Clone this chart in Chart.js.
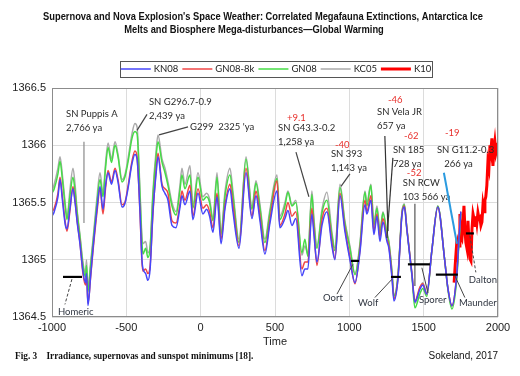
<!DOCTYPE html>
<html>
<head>
<meta charset="utf-8">
<script src="https://cdn.jsdelivr.net/npm/chart.js@4.4.1/dist/chart.umd.min.js"></script>
<style>
  html, body { margin: 0; padding: 0; background: #fff; }
  #wrap { width: 520px; height: 376px; }
</style>
</head>
<body>
<div id="wrap"><canvas id="irradiance"></canvas></div>
<script>
// years (AD, negative = BC) shared by the four reconstructions
const years = [
  -1000, -985, -960, -946, -930, -910, -899, -880, -859, -845,
  -830, -812, -792, -775, -768, -758, -740, -724, -697, -677,
  -657, -640, -623, -600, -576, -556, -529, -510, -489, -462,
  -442, -428, -408, -395, -388, -370, -355, -340, -321, -300,
  -287, -260, -240, -220, -193, -166, -140, -126, -106, -72,
  -52, -18, 15, 40, 60, 83, 110, 137, 164, 197,
  217, 258, 305, 345, 372, 399, 432, 466, 513, 533,
  567, 587, 614, 640, 681, 701, 721, 748, 762, 782,
  816, 849, 883, 903, 937, 970, 1004, 1038, 1071, 1105,
  1118, 1145, 1165, 1186, 1206, 1226, 1253, 1266, 1287, 1300,
  1327, 1354, 1370, 1387, 1421, 1441, 1474, 1494, 1521, 1555,
  1595, 1642, 1662, 1690, 1723, 1737, 1750
];

const kn08 = [
  1365.38, 1365.42, 1365.55, 1365.70, 1365.52, 1365.30, 1365.27, 1365.44, 1365.62, 1365.50,
  1365.32, 1365.14, 1364.90, 1364.80, 1364.88, 1364.60, 1364.86, 1365.10, 1365.45, 1365.64,
  1365.44, 1365.65, 1365.76, 1365.66, 1365.78, 1365.68, 1365.46, 1365.49, 1365.62, 1365.84,
  1365.92, 1365.88, 1365.42, 1365.00, 1364.92, 1364.88, 1364.82, 1364.92, 1365.42, 1365.75,
  1365.90, 1365.64, 1365.58, 1365.52, 1365.30, 1365.28, 1365.45, 1365.56, 1365.48, 1365.60,
  1365.35, 1365.58, 1365.40, 1365.44, 1365.38, 1365.24, 1365.55, 1365.14, 1365.45, 1365.62,
  1365.42, 1365.10, 1365.76, 1365.36, 1365.56, 1365.34, 1365.05, 1365.32, 1365.60, 1365.28,
  1365.36, 1365.43, 1365.30, 1365.36, 1364.86, 1364.92, 1364.92, 1365.40, 1365.22, 1364.98,
  1365.30, 1365.42, 1365.12, 1365.00, 1365.56, 1365.25, 1365.00, 1364.80, 1365.06, 1365.48,
  1365.40, 1365.52, 1365.22, 1365.38, 1365.16, 1365.33, 1365.16, 1365.10, 1364.84, 1364.64,
  1364.83, 1365.39, 1365.46, 1365.26, 1364.87, 1364.63, 1364.74, 1364.78, 1364.70, 1365.08,
  1365.46, 1364.99, 1364.76, 1364.60, 1364.88, 1365.18, 1365.42
];

const gn08_8k = [
  1365.42, 1365.45, 1365.58, 1365.72, 1365.55, 1365.32, 1365.25, 1365.42, 1365.64, 1365.52,
  1365.33, 1365.15, 1364.88, 1364.78, 1364.86, 1364.62, 1364.85, 1365.08, 1365.42, 1365.62,
  1365.40, 1365.62, 1365.78, 1365.68, 1365.80, 1365.70, 1365.48, 1365.50, 1365.64, 1365.86,
  1365.95, 1365.90, 1365.40, 1364.98, 1364.90, 1364.92, 1364.88, 1364.95, 1365.40, 1365.78,
  1365.93, 1365.66, 1365.62, 1365.58, 1365.34, 1365.32, 1365.48, 1365.60, 1365.52, 1365.65,
  1365.38, 1365.62, 1365.45, 1365.48, 1365.42, 1365.28, 1365.58, 1365.18, 1365.48, 1365.66,
  1365.48, 1365.12, 1365.80, 1365.38, 1365.60, 1365.38, 1365.08, 1365.35, 1365.69, 1365.30,
  1365.40, 1365.50, 1365.38, 1365.42, 1364.92, 1364.98, 1364.98, 1365.45, 1365.26, 1364.95,
  1365.35, 1365.45, 1365.15, 1365.01, 1365.58, 1365.28, 1365.02, 1364.79, 1365.08, 1365.52,
  1365.42, 1365.56, 1365.25, 1365.40, 1365.20, 1365.36, 1365.18, 1365.12, 1364.86, 1364.66,
  1364.84, 1365.40, 1365.47, 1365.27, 1364.88, 1364.64, 1364.76, 1364.79, 1364.70, 1365.08,
  1365.46, 1364.99, 1364.76, 1364.60, 1364.88, 1365.18, 1365.42
];

const gn08 = [
  1365.58, 1365.62, 1365.75, 1365.86, 1365.70, 1365.45, 1365.35, 1365.55, 1365.72, 1365.60,
  1365.40, 1365.20, 1364.95, 1364.85, 1364.95, 1364.72, 1364.95, 1365.15, 1365.50, 1365.70,
  1365.55, 1365.80, 1365.98, 1365.85, 1366.00, 1365.90, 1365.68, 1365.72, 1365.85, 1366.06,
  1366.12, 1366.10, 1365.56, 1365.15, 1365.05, 1365.10, 1365.02, 1365.10, 1365.56, 1365.90,
  1366.03, 1365.85, 1365.76, 1365.65, 1365.47, 1365.39, 1365.60, 1365.74, 1365.62, 1365.74,
  1365.45, 1365.72, 1365.52, 1365.55, 1365.50, 1365.34, 1365.72, 1365.22, 1365.56, 1365.74,
  1365.56, 1365.15, 1365.88, 1365.44, 1365.67, 1365.45, 1365.15, 1365.41, 1365.71, 1365.35,
  1365.47, 1365.59, 1365.47, 1365.50, 1365.06, 1365.18, 1365.03, 1365.57, 1365.32, 1365.10,
  1365.41, 1365.52, 1365.21, 1365.08, 1365.63, 1365.32, 1365.10, 1364.87, 1365.12, 1365.59,
  1365.47, 1365.65, 1365.30, 1365.45, 1365.23, 1365.41, 1365.22, 1365.15, 1364.89, 1364.68,
  1364.86, 1365.41, 1365.48, 1365.27, 1364.86, 1364.58, 1364.70, 1364.75, 1364.68, 1365.08,
  1365.47, 1364.99, 1364.75, 1364.57, 1364.84, 1365.14, 1365.41
];

const kc05 = [
  1365.60, 1365.66, 1365.80, 1365.90, 1365.74, 1365.48, 1365.37, 1365.60, 1365.80, 1365.66,
  1365.42, 1365.22, 1364.98, 1364.88, 1365.00, 1364.75, 1364.98, 1365.18, 1365.55, 1365.76,
  1365.58, 1365.84, 1366.02, 1365.88, 1366.03, 1365.92, 1365.70, 1365.74, 1365.88, 1366.10,
  1366.19, 1366.16, 1365.60, 1365.20, 1365.14, 1365.16, 1365.06, 1365.12, 1365.60, 1365.95,
  1366.09, 1365.88, 1365.80, 1365.68, 1365.50, 1365.42, 1365.64, 1365.80, 1365.66, 1365.82,
  1365.48, 1365.76, 1365.55, 1365.58, 1365.53, 1365.36, 1365.76, 1365.24, 1365.60, 1365.80,
  1365.60, 1365.18, 1365.90, 1365.46, 1365.69, 1365.48, 1365.18, 1365.44, 1365.74, 1365.38,
  1365.50, 1365.60, 1365.48, 1365.52, 1365.04, 1365.12, 1365.05, 1365.60, 1365.36, 1365.12,
  1365.44, 1365.59, 1365.24, 1365.10, 1365.66, 1365.34, 1365.12, 1364.88, 1365.14, 1365.60,
  1365.50, 1365.66, 1365.32, 1365.47, 1365.25, 1365.42, 1365.24, 1365.16, 1364.90, 1364.69,
  1364.86, 1365.42, 1365.49, 1365.28, 1364.88, 1364.62, 1364.75, 1364.80, 1364.71, 1365.08,
  1365.47, 1364.99, 1364.76, 1364.59, 1364.86, 1365.16, 1365.40
];

// K10 reconstruction, 18th century to 2000
const k10Years = [
  1705, 1712, 1720, 1726, 1732, 1738, 1744, 1750, 1757, 1764,
  1771, 1778, 1784, 1791, 1798, 1805, 1811, 1818, 1825, 1832,
  1840, 1846, 1852, 1858, 1865, 1872, 1878, 1885, 1892, 1899,
  1906, 1912, 1918, 1925, 1932, 1939, 1946, 1952, 1959, 1966,
  1972, 1979, 1986, 1993, 2000
];
const k10 = [
  1364.80, 1364.95, 1365.10, 1365.05, 1365.15, 1365.12, 1365.40, 1365.20, 1365.18, 1365.30,
  1365.47, 1365.25, 1365.15, 1365.10, 1365.34, 1365.15, 1365.01, 1364.99, 1365.27, 1365.40,
  1365.35, 1365.30, 1365.38, 1365.32, 1365.41, 1365.36, 1365.37, 1365.30, 1365.33, 1365.48,
  1365.42, 1365.52, 1365.55, 1365.65, 1365.85, 1365.80, 1366.00, 1365.95, 1366.06, 1365.82,
  1365.95, 1366.03, 1365.93, 1365.97, 1366.02
];

const titleLines = [
  "Supernova and Nova Explosion's Space Weather: Correlated Megafauna Extinctions, Antarctica Ice",
  'Melts and Biosphere Mega-disturbances\u2014Global Warming'
];

// supernova notes: label position, pointer start/end (year, W/m2)
const supernovae = [
  { lines: ['SN Puppis A', '2,766 ya'], at: [-906, 1366.27], from: [-785, 1366.03], to: [-785, 1365.32], line: '#8a8a8a' },
  { lines: ['SN G296.7-0.9', '2,439 ya'], at: [-348, 1366.38], from: [-361, 1366.27], to: [-428, 1366.13], line: '#444' },
  { lines: ["G299  2325 'ya"], at: [-72, 1366.16], from: [-85, 1366.16], to: [-280, 1366.09], line: '#444' },
  { lines: ['SN G43.3-0.2', '1,258 ya'], at: [520, 1366.15], from: [641, 1365.94], to: [728, 1365.55], line: '#444' },
  { lines: ['SN 393', '1,143 ya'], at: [876, 1365.92], from: [1004, 1365.75], to: [944, 1365.64], line: '#444' },
  { lines: ['SN Vela JR', '657 ya'], at: [1186, 1366.29], from: [1239, 1366.08], to: [1260, 1365.25], line: '#333' },
  { lines: ['SN 185', '728 ya'], at: [1293, 1365.96], from: [1293, 1365.89], to: [1253, 1365.19], line: '#333' },
  { lines: ['SN RCW', '103 566 ya'], at: [1360, 1365.67], from: [1441, 1365.49], to: [1441, 1364.77], line: '#555' },
  { lines: ['SN G11.2-0.3', '   266 ya'], at: [1589, 1365.96], from: [1636, 1365.76], to: [1724, 1365.14], line: '#2b9be0' }
];
const changes = [
  { text: '+9.1', at: [580, 1366.24] },
  { text: '-40', at: [903, 1366.0] },
  { text: '-46', at: [1260, 1366.40] },
  { text: '-62', at: [1367, 1366.08] },
  { text: '-52', at: [1387, 1365.76] },
  { text: '-19', at: [1643, 1366.11] }
];

// grand solar minima: bar span, bar level, label and pointer
const minima = [
  { name: 'Homeric', span: [-926, -798], level: 1364.85, at: [-960, 1364.54], from: [-866, 1364.83], to: [-913, 1364.61], dash: true },
  { name: 'Oort', span: [1011, 1065], level: 1364.99, at: [823, 1364.67], from: [917, 1364.70], to: [1024, 1364.96] },
  { name: 'Wolf', span: [1280, 1347], level: 1364.85, at: [1058, 1364.62], from: [1172, 1364.67], to: [1287, 1364.83] },
  { name: 'Sporer', span: [1394, 1542], level: 1364.96, at: [1468, 1364.65], from: [1488, 1364.93], to: [1529, 1364.71] },
  { name: 'Maunder', span: [1582, 1730], level: 1364.87, at: [1737, 1364.62], from: [1710, 1364.86], to: [1777, 1364.67] },
  { name: 'Dalton', span: [1784, 1838], level: 1365.23, at: [1804, 1364.82], from: [1811, 1365.21], to: [1851, 1364.89], dash: true }
];

const pts = (xs, ys) => xs.map((x, i) => ({ x: x, y: ys[i] }));
const noteFont = '9.5px Lato, "Liberation Sans", sans-serif';

const notes = {
  id: 'notes',
  afterDraw(chart) {
    const ctx = chart.ctx;
    const xs = chart.scales.x, ys = chart.scales.y;
    const px = v => xs.getPixelForValue(v);
    const py = v => ys.getPixelForValue(v);
    const area = chart.chartArea;

    ctx.save();
    // box around plot
    ctx.strokeStyle = '#8c8c8c';
    ctx.lineWidth = 1;
    ctx.strokeRect(area.left + 0.5, area.top + 0.5, area.right - area.left - 1, area.bottom - area.top - 1);

    // title, squeezed like the narrow face of the original
    ctx.fillStyle = '#111';
    ctx.textBaseline = 'middle';
    ctx.textAlign = 'center';
    ctx.font = 'bold 10px "Liberation Sans", Arial, sans-serif';
    const squeeze = 440 / ctx.measureText(titleLines[0]).width;
    [[263, 17], [254, 30]].forEach((p, i) => {
      ctx.save();
      ctx.translate(p[0], p[1]);
      ctx.scale(squeeze, 1);
      ctx.fillText(titleLines[i], 0, 0);
      ctx.restore();
    });

    // pointers and labels for supernovae
    ctx.textAlign = 'left';
    ctx.font = noteFont;
    supernovae.forEach(s => {
      ctx.strokeStyle = s.line;
      ctx.lineWidth = s.line === '#2b9be0' ? 2 : 1.2;
      ctx.beginPath();
      ctx.moveTo(px(s.from[0]), py(s.from[1]));
      ctx.lineTo(px(s.to[0]), py(s.to[1]));
      ctx.stroke();
      ctx.fillStyle = '#2a2a2a';
      s.lines.forEach((t, i) => ctx.fillText(t, px(s.at[0]), py(s.at[1]) + i * 14));
    });
    ctx.fillStyle = '#e8302c';
    changes.forEach(c => ctx.fillText(c.text, px(c.at[0]), py(c.at[1])));

    // sunspot minima
    minima.forEach(m => {
      ctx.strokeStyle = '#000';
      ctx.lineWidth = 2.2;
      ctx.beginPath();
      ctx.moveTo(px(m.span[0]), py(m.level));
      ctx.lineTo(px(m.span[1]), py(m.level));
      ctx.stroke();
      ctx.strokeStyle = '#444';
      ctx.lineWidth = 1;
      ctx.setLineDash(m.dash ? [3, 2] : []);
      ctx.beginPath();
      ctx.moveTo(px(m.from[0]), py(m.from[1]));
      ctx.lineTo(px(m.to[0]), py(m.to[1]));
      ctx.stroke();
      ctx.setLineDash([]);
      ctx.fillStyle = '#2f3540';
      ctx.fillText(m.name, px(m.at[0]), py(m.at[1]));
    });

    // legend in a box, MATLAB style
    ctx.font = noteFont;
    const sets = chart.data.datasets;
    const widths = sets.map(d => ctx.measureText(d.label).width);
    const total = sets.length * 33 + widths.reduce((a, b) => a + b, 0) + (sets.length - 1) * 4;
    let x = 276 - total / 2;
    const ly = 69;
    ctx.strokeStyle = '#555';
    ctx.lineWidth = 1;
    ctx.strokeRect(120.5, 61.5, 312, 16);
    sets.forEach((d, i) => {
      ctx.strokeStyle = d.borderColor;
      ctx.lineWidth = d.borderWidth;
      ctx.beginPath();
      ctx.moveTo(x, ly);
      ctx.lineTo(x + 30, ly);
      ctx.stroke();
      ctx.fillStyle = '#222';
      ctx.fillText(d.label, x + 33, ly);
      x += 33 + widths[i] + 4;
    });

    // figure caption
    ctx.fillStyle = '#111';
    ctx.font = 'bold 9.3px "Liberation Serif", serif';
    ctx.fillText('Fig. 3    Irradiance, supernovas and sunspot minimums [18].', 15, 357);
    ctx.font = '10px "Liberation Sans", sans-serif';
    ctx.textAlign = 'right';
    ctx.fillText('Sokeland, 2017', 498, 356);
    ctx.restore();
  }
};

new Chart(document.getElementById('irradiance'), {
  type: 'line',
  data: {
    datasets: [
      { label: 'KN08', data: pts(years, kn08), borderColor: 'rgb(70,70,250)', borderWidth: 1.5 },
      { label: 'GN08-8k', data: pts(years, gn08_8k), borderColor: 'rgb(240,70,70)', borderWidth: 1.5 },
      { label: 'GN08', data: pts(years, gn08), borderColor: 'rgb(70,220,70)', borderWidth: 1.5 },
      { label: 'KC05', data: pts(years, kc05), borderColor: 'rgb(170,170,170)', borderWidth: 1.5 },
      { label: 'K10', data: pts(k10Years, k10), borderColor: 'rgb(255,0,0)', borderWidth: 3, cubicInterpolationMode: 'default', tension: 0 }
    ]
  },
  options: {
    animation: false,
    responsive: true,
    maintainAspectRatio: false,
    layout: { padding: { left: 0, right: 22, top: 88, bottom: 27 } },
    elements: {
      point: { radius: 0 },
      line: { cubicInterpolationMode: 'monotone', fill: false }
    },
    plugins: {
      legend: { display: false },
      tooltip: { enabled: false },
      title: { display: false }
    },
    scales: {
      x: {
        type: 'linear',
        min: -1000,
        max: 2000,
        afterFit: s => { s.height = 32; },
        ticks: {
          stepSize: 500,
          padding: 4,
          color: '#222',
          font: { family: '"Liberation Sans", sans-serif', size: 11 },
          callback: v => String(v)
        },
        grid: { color: '#dcdcdc', drawTicks: false },
        border: { display: false },
        title: { display: true, text: 'Time', color: '#222', padding: 0, font: { family: '"Liberation Sans", sans-serif', size: 11 } }
      },
      y: {
        min: 1364.5,
        max: 1366.5,
        afterFit: s => { s.width = 52; },
        ticks: {
          stepSize: 0.5,
          padding: 6,
          color: '#222',
          font: { family: '"Liberation Sans", sans-serif', size: 11 },
          callback: v => String(v)
        },
        grid: { color: '#dcdcdc', drawTicks: false },
        border: { display: false }
      }
    }
  },
  plugins: [notes]
});
</script>
</body>
</html>
